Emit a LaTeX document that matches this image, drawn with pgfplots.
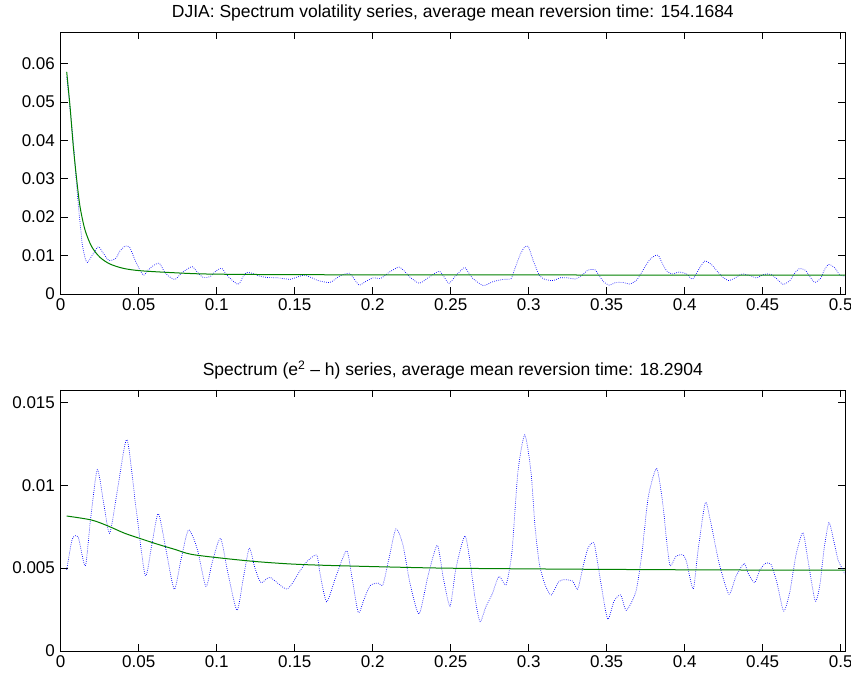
\documentclass[border=0pt]{standalone}
\usepackage{pgfplots}
\pgfplotsset{compat=1.18}
\usepackage{fontspec}
\setmainfont{Liberation Sans}
\definecolor{mgreen}{rgb}{0,0.5,0}
\pgfplotsset{
  mstyle/.style={
    scale only axis,
    anchor=south west,
    width=784.3pt,
    xmin=0, xmax=0.5028,
    xtick={0,0.05,0.1,0.15,0.2,0.25,0.3,0.35,0.4,0.45,0.5},
    xticklabels={0,0.05,0.1,0.15,0.2,0.25,0.3,0.35,0.4,0.45,0.5},
    tick align=inside,
    tick pos=both,
    major tick length=7pt,
    axis line style={line width=0.8pt},
    every tick/.style={black, line width=0.5pt},
    tick label style={font=\fontsize{17}{19}\selectfont},
    xticklabel style={yshift=-1pt},
    yticklabel style={xshift=-2.3pt},
    title style={at={(0.5,1)}, anchor=base, yshift=8.3pt, inner sep=0pt, font=\fontsize{17.5}{20}\selectfont},
    /pgf/number format/assume math mode=true,
    scaled ticks=false,
  },
  bluedot/.style={blue, line width=0.7pt, dash pattern=on 0.7pt off 1.4pt, smooth, tension=0.4},
  greenline/.style={mgreen, line width=1pt, smooth, tension=0.5},
}
\begin{document}
\begin{tikzpicture}
\path[use as bounding box] (0pt,0pt) rectangle (851pt,679pt);
% ---------------- top axis
\begin{axis}[mstyle, at={(60.7pt,385pt)}, height=261.7pt,
  ymin=0, ymax=0.0681,
  ytick={0,0.01,0.02,0.03,0.04,0.05,0.06},
  yticklabels={0,0.01,0.02,0.03,0.04,0.05,0.06},
  title={DJIA: Spectrum volatility series, average mean reversion time: 154.1684}]
\addplot[bluedot] coordinates {
(0.00385,0.0565) (0.0063,0.0470) (0.0082,0.0390) (0.0095,0.0320) (0.0109,0.0250)
(0.0124,0.0185) (0.0140,0.0125) (0.0159,0.0090) (0.0172,0.0082) (0.0201,0.0100)
(0.0241,0.0123) (0.0273,0.0106) (0.0310,0.0087) (0.0354,0.0093) (0.0380,0.0112)
(0.0415,0.0125) (0.0444,0.0120) (0.0483,0.0082) (0.0529,0.0049) (0.0560,0.0062)
(0.0594,0.0074) (0.0632,0.0080) (0.0662,0.0060) (0.0690,0.0047) (0.0733,0.0038)
(0.0771,0.0053) (0.0808,0.0064) (0.0844,0.0071) (0.0880,0.0055) (0.0914,0.0043)
(0.0957,0.0045) (0.0996,0.0060) (0.1032,0.0067) (0.1060,0.0052) (0.1085,0.0041)
(0.1138,0.0025) (0.1169,0.0045) (0.1192,0.0056) (0.1226,0.0054) (0.1278,0.0046)
(0.1321,0.0043) (0.1393,0.0042) (0.1470,0.0038) (0.1515,0.0044) (0.1562,0.0049)
(0.1611,0.0042) (0.1649,0.0035) (0.1726,0.0030) (0.1790,0.0047) (0.1850,0.0054)
(0.1880,0.0040) (0.1914,0.0023) (0.1957,0.0033) (0.2004,0.0042) (0.2053,0.0041)
(0.2111,0.0058) (0.2169,0.0070) (0.2207,0.0058) (0.2239,0.0044) (0.2299,0.0028)
(0.2355,0.0042) (0.2425,0.0059) (0.2457,0.0045) (0.2489,0.0028) (0.2534,0.0048)
(0.2587,0.0069) (0.2611,0.0058) (0.2641,0.0041) (0.2709,0.0022) (0.2771,0.0032)
(0.2837,0.0038) (0.2887,0.0040) (0.2908,0.0062) (0.2944,0.0101) (0.2970,0.0120)
(0.2997,0.0124) (0.3029,0.0087) (0.3068,0.0049) (0.3104,0.0038) (0.3158,0.0035)
(0.3201,0.0042) (0.3254,0.0042) (0.3297,0.0039) (0.3340,0.0048) (0.3380,0.0062)
(0.3425,0.0063) (0.3453,0.0047) (0.3483,0.0031) (0.3517,0.0023) (0.3560,0.0030)
(0.3603,0.0030) (0.3650,0.0026) (0.3692,0.0036) (0.3718,0.0052) (0.3746,0.0071)
(0.3778,0.0090) (0.3816,0.0101) (0.3835,0.0098) (0.3859,0.0078) (0.3885,0.0060)
(0.3919,0.0052) (0.3964,0.0057) (0.4013,0.0052) (0.4051,0.0039) (0.4098,0.0069)
(0.4130,0.0086) (0.4173,0.0076) (0.4205,0.0061) (0.4241,0.0045) (0.4282,0.0035)
(0.4324,0.0042) (0.4369,0.0052) (0.4419,0.0048) (0.4462,0.0042) (0.4508,0.0051)
(0.4553,0.0051) (0.4594,0.0038) (0.4632,0.0025) (0.4675,0.0035) (0.4701,0.0052)
(0.4735,0.0066) (0.4773,0.0062) (0.4803,0.0045) (0.4835,0.0030) (0.4874,0.0042)
(0.4895,0.0062) (0.4923,0.0077) (0.4963,0.0068) (0.4991,0.0051) (0.5028,0.0046)
};
\addplot[greenline] coordinates {
(0.00385,0.0578) (0.0060,0.0487) (0.0081,0.0383) (0.0103,0.0296) (0.0124,0.0227)
(0.0156,0.01665) (0.0199,0.0123) (0.0252,0.00954) (0.0316,0.0078) (0.0401,0.00668)
(0.0508,0.00606) (0.0722,0.00554) (0.0936,0.0052) (0.1363,0.00505) (0.2175,0.00497)
(0.3457,0.00494) (0.5028,0.00493)
};
\end{axis}
% ---------------- bottom axis
\begin{axis}[mstyle, at={(60.7pt,28pt)}, height=261pt,
  ymin=0, ymax=0.01574,
  ytick={0,0.005,0.01,0.015},
  yticklabels={0,0.005,0.01,0.015},
  title={Spectrum (e\textsuperscript{2} – h) series, average mean reversion time: 18.2904}]
\addplot[bluedot] coordinates {
(0.00385,0.00489) (0.00744,0.00675) (0.01128,0.00685) (0.01577,0.00513) (0.0192,0.0080)
(0.02346,0.01094) (0.0274,0.0090) (0.03141,0.0071) (0.0367,0.0099) (0.0425,0.01275)
(0.0483,0.0086) (0.0542,0.00455) (0.0584,0.0064) (0.0626,0.00828) (0.0677,0.0060)
(0.0728,0.00372) (0.0771,0.0055) (0.0819,0.0073) (0.0874,0.0062) (0.0931,0.0039)
(0.0970,0.0053) (0.1024,0.0068) (0.1072,0.0047) (0.1130,0.00245) (0.1169,0.0043)
(0.1209,0.0062) (0.1245,0.0050) (0.1284,0.00412) (0.1342,0.00444) (0.1451,0.00374)
(0.1538,0.00489) (0.1579,0.0054) (0.1641,0.00579) (0.1662,0.0047) (0.1705,0.00297)
(0.1765,0.0045) (0.1833,0.00605) (0.1868,0.0044) (0.1908,0.00231) (0.1944,0.0031)
(0.1983,0.00394) (0.2034,0.0041) (0.2066,0.0040) (0.2105,0.0056) (0.2149,0.00736)
(0.2194,0.0064) (0.2239,0.0041) (0.2297,0.00223) (0.2354,0.0045) (0.2414,0.00638)
(0.2451,0.0045) (0.2496,0.00271) (0.2534,0.0050) (0.2592,0.00694) (0.2630,0.0050)
(0.2656,0.0032) (0.2688,0.00177) (0.2727,0.0027) (0.2765,0.0034) (0.2810,0.0045)
(0.2855,0.0040) (0.2893,0.0060) (0.2931,0.0108) (0.2975,0.01303) (0.3015,0.0108)
(0.3040,0.0076) (0.3068,0.00529) (0.3105,0.0040) (0.3145,0.00338) (0.3194,0.0042)
(0.3239,0.0043) (0.3284,0.0042) (0.3314,0.00372) (0.3350,0.00513) (0.3380,0.0062)
(0.3418,0.00653) (0.3444,0.0052) (0.3470,0.0037) (0.3507,0.00191) (0.3547,0.0030)
(0.3590,0.00338) (0.3626,0.00245) (0.3688,0.0036) (0.3726,0.0059) (0.3767,0.0093)
(0.3821,0.0110) (0.3861,0.0088) (0.3887,0.0064) (0.3908,0.00513) (0.3944,0.0057)
(0.3989,0.0058) (0.4013,0.00535) (0.4055,0.00374) (0.4085,0.0060) (0.4132,0.00894)
(0.4162,0.0080) (0.4192,0.0066) (0.4226,0.0051) (0.4284,0.00342) (0.4329,0.0045)
(0.4382,0.00529) (0.4406,0.0047) (0.4449,0.00412) (0.4483,0.0049) (0.4521,0.0053)
(0.4555,0.0052) (0.4592,0.0041) (0.4635,0.00241) (0.4675,0.0036) (0.4714,0.0058)
(0.4758,0.00714) (0.4790,0.0055) (0.4837,0.00302) (0.4867,0.0040) (0.4893,0.0061)
(0.4925,0.00774) (0.4957,0.0066) (0.4985,0.00545) (0.5028,0.00464)
};
\addplot[greenline] coordinates {
(0.00385,0.00814) (0.0197,0.0079) (0.0303,0.00754) (0.0410,0.0071) (0.0517,0.00676)
(0.0624,0.00643) (0.0731,0.00613) (0.0837,0.00583) (0.1042,0.00559) (0.1256,0.00539)
(0.1470,0.00525) (0.1683,0.00517) (0.2090,0.00507) (0.2517,0.00499) (0.3350,0.00493)
(0.4180,0.00489) (0.5028,0.00487)
};
\end{axis}
\end{tikzpicture}
\end{document}
